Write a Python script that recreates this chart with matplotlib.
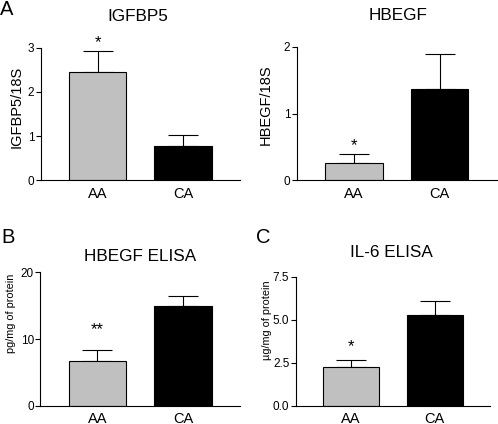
import matplotlib
matplotlib.use("Agg")
import matplotlib.pyplot as plt

plt.rcParams['font.family'] = ['Liberation Sans', 'DejaVu Sans']

groups = ['AA', 'CA']
bar_colors = ['#c0c0c0', '#000000']

igfbp5_mean = [2.45, 0.78]
igfbp5_sem = [0.48, 0.24]
hbegf_mean = [0.265, 1.375]
hbegf_sem = [0.13, 0.525]
hbegf_elisa_mean = [6.75, 14.9]
hbegf_elisa_sem = [1.65, 1.55]
il6_elisa_mean = [2.25, 5.3]
il6_elisa_sem = [0.39, 0.78]

panels = [
    # title, ylabel, means, sems, ylim, yticks, ticklabels, star,
    # axes rect, title pos, star offset, ylabel size, ylabel coords
    ('IGFBP5', 'IGFBP5/18S', igfbp5_mean, igfbp5_sem, (0, 3), [0, 1, 2, 3],
     ['0', '1', '2', '3'], '*', [0.0817, 0.5748, 0.4002, 0.3127],
     (0.276, 0.951), 6, 10.5, (-0.084, 0.553)),
    ('HBEGF', 'HBEGF/18S', hbegf_mean, hbegf_sem, (0, 2), [0, 1, 2],
     ['0', '1', '2'], '*', [0.5958, 0.5748, 0.4016, 0.3144],
     (0.799, 0.953), 6, 10.5, (-0.118, 0.565)),
    ('HBEGF ELISA', 'pg/mg of protein', hbegf_elisa_mean, hbegf_elisa_sem, (0, 20), [0, 10, 20],
     ['0', '10', '20'], '**', [0.0810, 0.0425, 0.4010, 0.3153],
     (0.281, 0.384), 14.5, 7.8, (-0.12, 0.69)),
    ('IL-6 ELISA', 'µg/mg of protein', il6_elisa_mean, il6_elisa_sem, (0, 7.5), [0, 2.5, 5.0, 7.5],
     ['0.0', '2.5', '5.0', '7.5'], '*', [0.5938, 0.0425, 0.3902, 0.3050],
     (0.785, 0.393), 10, 7.8, (-0.12, 0.66)),
]

fig = plt.figure(figsize=(4.98, 4.24), dpi=100)

for (title, ylabel, means, sems, ylim, yticks, ytl, star, rect, tpos,
     star_off, ylsize, ylcoords) in panels:
    ax = fig.add_axes(rect)
    x = list(range(len(groups)))
    ax.bar(x, means, width=0.67, color=bar_colors, edgecolor='black', linewidth=0.8, zorder=2)
    ax.errorbar(x, means, yerr=[[0] * len(sems), sems], fmt='none', ecolor='black',
                elinewidth=0.8, capsize=10.6, capthick=0.8, zorder=1)
    ax.set_xlim(-0.665, 1.665)
    ax.set_ylim(*ylim)
    ax.set_yticks(yticks)
    ax.set_yticklabels(ytl)
    ax.set_xticks(x)
    ax.set_xticklabels(groups, fontsize=10.5)
    ax.tick_params(axis='x', length=0, pad=4.5)
    ax.tick_params(axis='y', length=3.6, width=0.8, labelsize=8.5, pad=1)
    for s in ['top', 'right']:
        ax.spines[s].set_visible(False)
    for s in ['left', 'bottom']:
        ax.spines[s].set_linewidth(0.8)
    ax.set_ylabel(ylabel, fontsize=ylsize)
    ax.yaxis.set_label_coords(*ylcoords)
    # significance star above AA bar
    ax.annotate(star, xy=(0, means[0] + sems[0]), xytext=(0, star_off),
                textcoords='offset points', ha='center', va='center',
                fontsize=12, clip_on=False)
    fig.text(tpos[0], tpos[1], title, ha='center', va='baseline', fontsize=12.3)

fig.text(0.0, 0.9646, 'A', fontsize=14.5, va='baseline', ha='left')
fig.text(0.002, 0.426, 'B', fontsize=14.5, va='baseline', ha='left')
fig.text(0.514, 0.426, 'C', fontsize=14.5, va='baseline', ha='left')

fig.savefig('out.png', dpi=100)
